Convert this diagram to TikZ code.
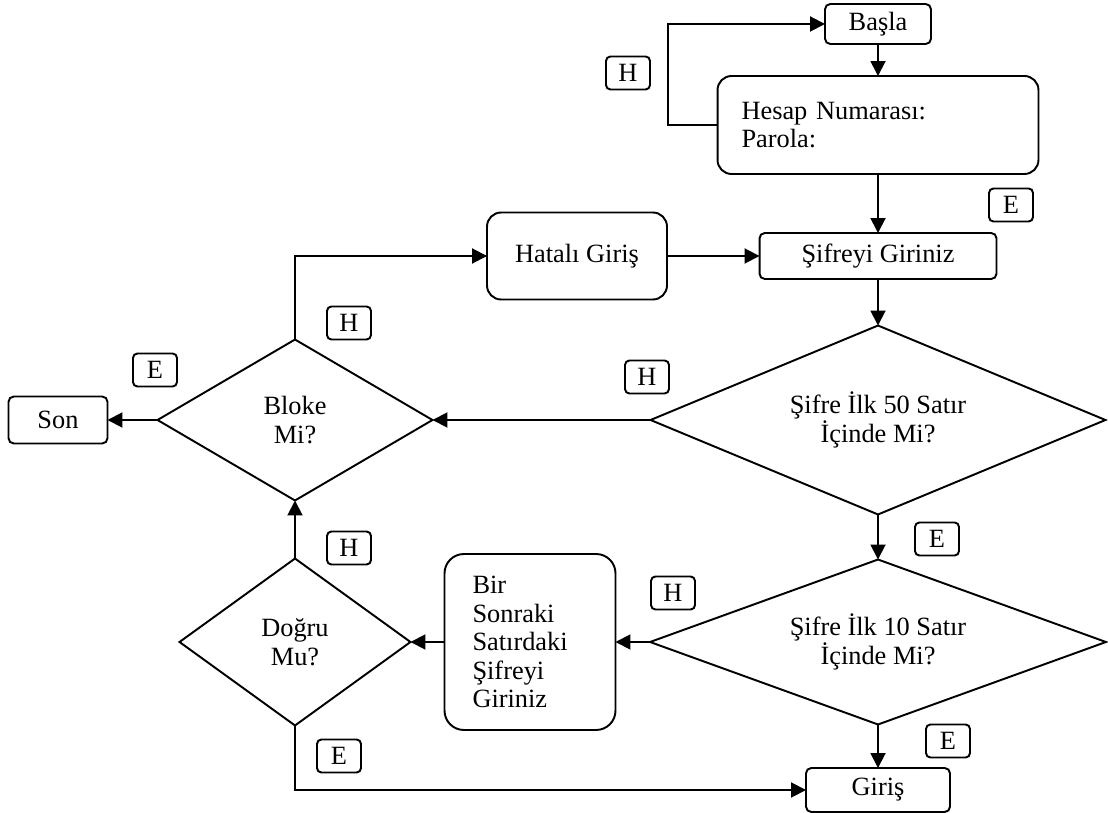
\documentclass[tikz,border=0pt]{standalone}
\usepackage{fontspec}
\setmainfont{Liberation Serif}
\usetikzlibrary{shapes.geometric,arrows.meta}

\tikzset{
  fcbox/.style={draw, line width=1.1pt, inner sep=0pt, outer sep=0pt, align=center,
    font=\fontsize{15}{16.2}\selectfont},
  fcdec/.style={fcbox, diamond, aspect=2},
  fclabel/.style={draw, line width=1.1pt, rounded corners=2.5pt, inner sep=0pt, outer sep=0pt,
    minimum width=0.88cm, minimum height=0.66cm, font=\fontsize{15}{16}\selectfont},
  fcedge/.style={line width=1.1pt, -{Triangle[length=0.3cm,width=0.3cm]}}
}

\begin{document}
\begin{tikzpicture}[x=0.02cm, y=-0.02cm]
\useasboundingbox (0,0) rectangle (1108,813);

\node[fcbox, rounded corners=3pt, minimum width=2.12cm, minimum height=0.8cm] (basla) at (878,24) {Başla};
\node[fcbox, rounded corners=8pt, minimum width=6.42cm, minimum height=1.96cm,
  text width=5.46cm, align=left] (hesap) at (878,125) {Hesap Numarası:\\Parola:};
\node[fcbox, rounded corners=3pt, minimum width=4.74cm, minimum height=0.92cm] (sifreyi) at (878,256) {Şifreyi Giriniz};
\node[fcbox, rounded corners=8pt, minimum width=3.6cm, minimum height=1.74cm] (hatali) at (577,256) {Hatalı Giriş};
\node[fcdec, minimum width=9.1cm, minimum height=3.78cm] (d50) at (878,420) {Şifre İlk 50 Satır\\İçinde Mi?};
\node[fcdec, minimum width=5.5cm, minimum height=3.22cm] (bloke) at (295,420) {Bloke\\Mi?};
\node[fcbox, rounded corners=3pt, minimum width=1.98cm, minimum height=0.94cm] (son) at (58,420) {Son};
\node[fcdec, minimum width=9.12cm, minimum height=3.3cm] (d10) at (878,642) {Şifre İlk 10 Satır\\İçinde Mi?};
\node[fcbox, rounded corners=11pt, minimum width=3.42cm, minimum height=3.52cm,
  text width=2.3cm, align=left] (birsonraki) at (530,642) {Bir\\Sonraki\\Satırdaki\\Şifreyi\\Giriniz};
\node[fcdec, minimum width=4.62cm, minimum height=3.34cm] (dogru) at (295,642) {Doğru\\Mu?};
\node[fcbox, rounded corners=3pt, minimum width=2.88cm, minimum height=0.88cm] (giris) at (878,790) {Giriş};

\node[fclabel] (h1) at (628,73) {H};
\node[fclabel] (e1) at (1011,205) {E};
\node[fclabel] (h2) at (349,323) {H};
\node[fclabel] (e2) at (155,370) {E};
\node[fclabel] (h3) at (647,377) {H};
\node[fclabel] (e3) at (937,539) {E};
\node[fclabel] (h4) at (349,548) {H};
\node[fclabel] (h5) at (673,593) {H};
\node[fclabel] (e4) at (339,756) {E};
\node[fclabel] (e5) at (948,741) {E};

\coordinate (loop) at (668,125);

\draw[fcedge] (basla) -- (hesap);
\draw[fcedge] (hesap.west) -- (loop) |- (basla.west);
\draw[fcedge] (hesap) -- (sifreyi);
\draw[fcedge] (hatali) -- (sifreyi);
\draw[fcedge] (sifreyi) -- (d50);
\draw[fcedge] (d50.west) -- (bloke.east);
\draw[fcedge] (bloke.north) |- (hatali.west);
\draw[fcedge] (bloke.west) -- (son.east);
\draw[fcedge] (d50.south) -- (d10.north);
\draw[fcedge] (d10.west) -- (birsonraki.east);
\draw[fcedge] (birsonraki.west) -- (dogru.east);
\draw[fcedge] (dogru.north) -- (bloke.south);
\draw[fcedge] (dogru.south) |- (giris.west);
\draw[fcedge] (d10.south) -- (giris.north);
\end{tikzpicture}
\end{document}
